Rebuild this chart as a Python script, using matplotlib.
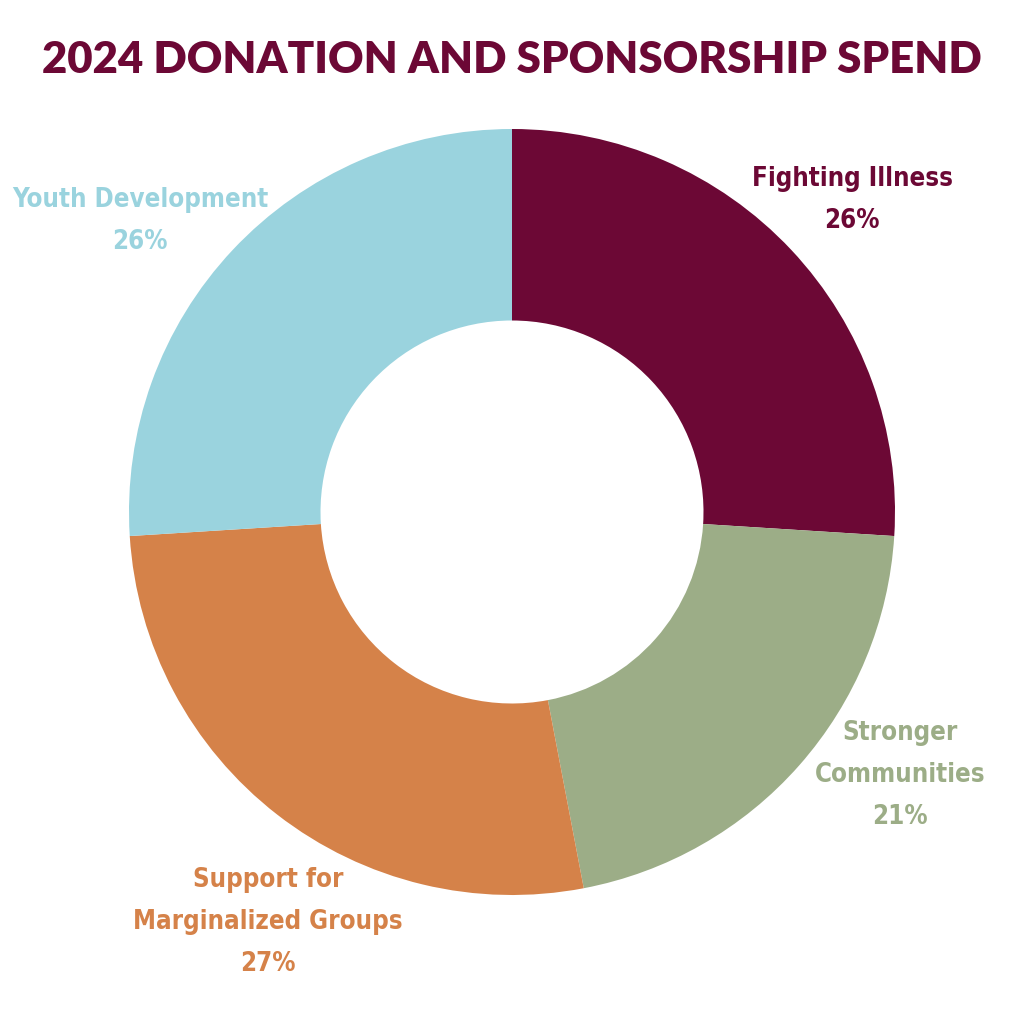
import matplotlib.pyplot as plt

# slice data, clockwise from 12 o'clock
categories = ["Fighting Illness", "Stronger\nCommunities", "Support for\nMarginalized Groups", "Youth Development"]
shares = [26, 21, 27, 26]
colors = ["#6c0835", "#9cad87", "#d58249", "#9ad3de"]

# label anchor points (pie radius = 1)
label_pos = [(0.888, 0.815), (1.013, -0.687), (-0.637, -1.070), (-0.971, 0.760)]

fig = plt.figure(figsize=(10.24, 10.24), dpi=100)
ax = fig.add_axes([0, 0, 1, 1])

ax.pie(shares, colors=colors, startangle=90, counterclock=False,
       radius=1, wedgeprops=dict(width=0.5, linewidth=0))

lim = 512 / 383
ax.set_xlim(-lim, lim)
ax.set_ylim(-lim, lim)
ax.set_aspect("equal")
ax.axis("off")

for name, val, col, (x, y) in zip(categories, shares, colors, label_pos):
    ax.text(x, y, f"{name}\n{val}%", ha="center", va="center", color=col,
            fontsize=18.5, fontweight="bold", fontstretch="condensed", linespacing=1.8,
            family=["DejaVu Sans"])

ax.text(0, 1.18, "2024 DONATION AND SPONSORSHIP SPEND", ha="center", va="center",
        color="#6c0835", fontsize=31.5, fontweight="heavy", family=["Lato", "DejaVu Sans"])

fig.savefig("out.png", dpi=100)
